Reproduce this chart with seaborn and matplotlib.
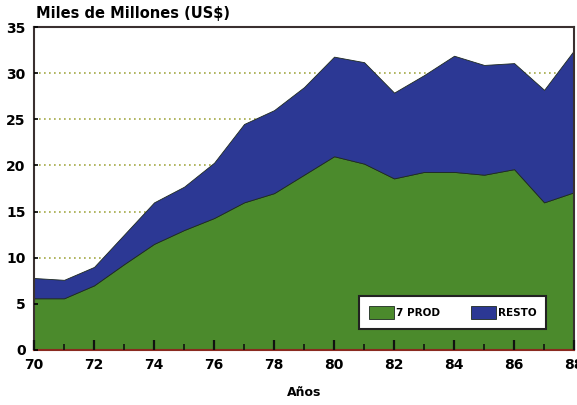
import numpy as np
import pandas as pd
import seaborn as sns
import matplotlib.pyplot as plt

# datos (miles de millones US$)
anios = [70, 71, 72, 73, 74, 75, 76, 77, 78, 79, 80, 81, 82, 83, 84, 85, 86, 87, 88]
prod7 = [5.6, 5.6, 7.0, 9.3, 11.5, 13.0, 14.3, 16.0, 17.0, 19.0, 21.0, 20.2, 18.6, 19.3, 19.3, 19.0, 19.6, 16.0, 17.1]
resto = [2.2, 2.0, 2.0, 3.2, 4.5, 4.7, 6.0, 8.5, 9.0, 9.5, 10.8, 11.0, 9.3, 10.5, 12.6, 11.9, 11.5, 12.2, 15.4]
series = ['7 PROD', 'RESTO']
colores = ['#4b8a2c', '#2c3894']

df = pd.DataFrame({'anio': anios, '7 PROD': prod7, 'RESTO': resto})

sns.set_style('white')
plt.rcParams['font.family'] = ['DejaVu Sans']
plt.rcParams['font.weight'] = 'bold'
plt.rcParams['text.color'] = 'black'
plt.rcParams['xtick.color'] = 'black'
plt.rcParams['ytick.color'] = 'black'

fig = plt.figure(figsize=(5.77, 4.05), dpi=100)
ax = fig.add_axes([0.059, 0.136, 0.936, 0.797])
ax.set_axisbelow(False)

# lineas de referencia punteadas
for yv in [10, 15, 20, 25, 30]:
    ax.axhline(yv, color='#a3a845', lw=1.2, ls=(0, (1, 2)), zorder=0)

ax.stackplot(df['anio'], df['7 PROD'], df['RESTO'], labels=series,
             colors=colores, edgecolor='#1e2a20', linewidth=0.6, zorder=2)

ax.set_xlim(70, 88)
ax.set_ylim(0, 35)
ax.set_xticks(range(70, 89, 2))
ax.set_xticks(range(70, 89, 1), minor=True)
ax.set_yticks(range(0, 36, 5))
ax.tick_params(axis='x', which='both', bottom=True)
ax.tick_params(axis='y', left=True)
ax.tick_params(axis='x', which='major', direction='in', length=7, width=1.6,
               labelsize=10, pad=6, color='#111111')
ax.tick_params(axis='x', which='minor', direction='in', length=4, width=1.2, color='#111111')
ax.tick_params(axis='y', direction='in', length=3, width=1.2, labelsize=10, pad=6)
for lab in ax.get_xticklabels() + ax.get_yticklabels():
    lab.set_fontweight('bold')

for s in ['left', 'top', 'right']:
    ax.spines[s].set_color('#3a3030')
    ax.spines[s].set_linewidth(1.5)
ax.spines['bottom'].set_color('#8a2a20')
ax.spines['bottom'].set_linewidth(1.5)

ax.set_xlabel('Años', fontsize=9, fontweight='bold', labelpad=10, color='black')
fig.text(0.062, 0.948, 'Miles de Millones (US$)', fontsize=10.5, fontweight='bold',
         ha='left', va='bottom', color='black')

leg = ax.legend(loc='lower right', bbox_to_anchor=(0.958, 0.048), ncol=2, frameon=True,
                fancybox=False, edgecolor='#222222', facecolor='white', framealpha=1,
                handlelength=2.4, handleheight=1.6, columnspacing=3.0, borderpad=0.95,
                prop={'size': 7.5, 'weight': 'bold'}, handletextpad=0.15)
leg.get_frame().set_linewidth(1.5)
leg.set_zorder(5)

fig.savefig('out.png', dpi=100)
